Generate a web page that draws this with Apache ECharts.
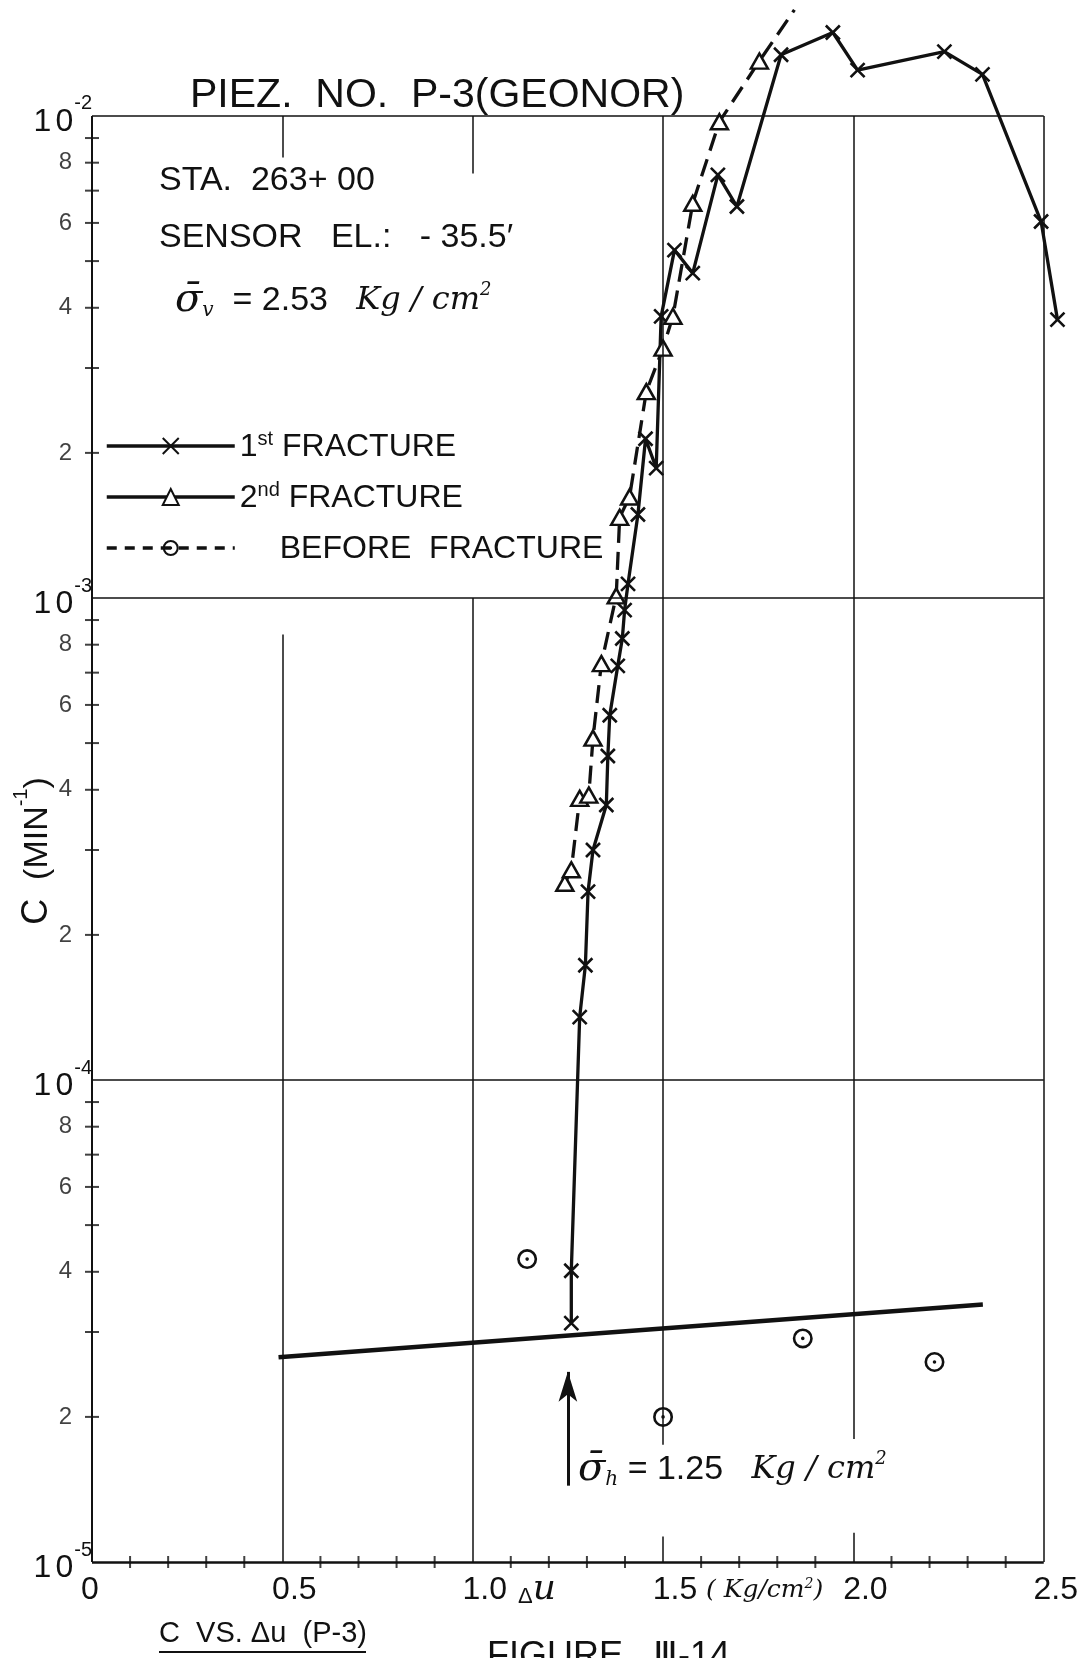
<!DOCTYPE html>
<html>
<head>
<meta charset="utf-8">
<script src="https://cdn.jsdelivr.net/npm/echarts@6/dist/echarts.min.js"></script>
<style>
  html, body { margin: 0; padding: 0; background: #ffffff; }
  #chart { width: 1081px; height: 1658px; }
</style>
</head>
<body>
<div id="chart"></div>
<script>
// Δu (kg/cm²) against creep coefficient C (1/min), piezometer P-3 (Geonor)
const firstFractureDu = [1.259, 1.259, 1.281, 1.296, 1.303, 1.316, 1.351, 1.355, 1.360, 1.381,
  1.393, 1.399, 1.408, 1.434, 1.454, 1.482, 1.495, 1.530, 1.578, 1.644, 1.694, 1.810, 1.946,
  2.011, 2.239, 2.339, 2.493, 2.536];
const firstFractureC = [3.13e-5, 4.02e-5, 1.35e-4, 1.73e-4, 2.46e-4, 3.0e-4, 3.72e-4, 4.70e-4,
  5.71e-4, 7.23e-4, 8.24e-4, 9.44e-4, 1.07e-3, 1.49e-3, 2.14e-3, 1.86e-3, 3.84e-3, 5.27e-3,
  4.72e-3, 7.55e-3, 6.49e-3, 1.34e-2, 1.49e-2, 1.245e-2, 1.36e-2, 1.22e-2, 6.04e-3, 3.78e-3];

const secondFractureDu = [1.242, 1.259, 1.281, 1.305, 1.316, 1.338, 1.377, 1.386, 1.412, 1.456,
  1.500, 1.526, 1.578, 1.648, 1.753];
const secondFractureC = [2.56e-4, 2.73e-4, 3.84e-4, 3.90e-4, 5.12e-4, 7.31e-4, 1.01e-3, 1.47e-3,
  1.62e-3, 2.68e-3, 3.30e-3, 3.84e-3, 6.59e-3, 9.73e-3, 1.30e-2];
// the dashed trend is carried on past the last reading
const secondFractureTrend = [1.845, 1.66e-2];

const beforeFractureDu = [1.143, 1.50, 1.867, 2.213];
const beforeFractureC = [4.25e-5, 2.0e-5, 2.91e-5, 2.60e-5];

// background creep line
const baselineDu = [0.49, 2.34];
const baselineC = [2.66e-5, 3.42e-5];

// horizontal effective stress marker
const sigmaH = 1.25;
const sigmaHArrowC = [1.44e-5, 2.48e-5];

// axis ticks
const xLabelStep = 0.5;
const xMinorStep = 0.1;
const xLabelMax = 2.5;
const yDecades = [-5, -4, -3];
const yTickMantissas = [2, 3, 4, 5, 6, 7, 8, 9];
const yLabelledMantissas = [2, 4, 6, 8];

// hand-ruled frame and grid: [x, cFrom, cTo] verticals, [c, duFrom, duTo] horizontals
const gridVertical = [
  [0, 1e-5, 1e-2], [0.5, 1e-5, 8.4e-4], [0.5, 8.2e-3, 1e-2], [1.0, 1e-5, 1e-3], [1.0, 7.6e-3, 1e-2],
  [1.5, 1.75e-5, 1e-2], [1.5, 1e-5, 1.13e-5], [2.0, 1.8e-5, 1e-2], [2.0, 1e-5, 1.15e-5], [2.5, 1e-5, 1e-2]
];
const gridHorizontal = [[1e-2, 0, 2.5], [1e-3, 0, 2.5], [1e-4, 0, 2.5], [1e-5, 0, 2.5]];

const FONT = 'Liberation Sans';
const SCRIPT = 'DejaVu Serif';
const INK = '#111';

const zip = (xs, ys) => xs.map((x, i) => [x, ys[i]]);
const isStep = (v, step) => Math.abs(v / step - Math.round(v / step)) < 1e-9;

const yTicks = [];
yDecades.forEach(d => yTickMantissas.forEach(m => yTicks.push([0, m * Math.pow(10, d), m])));
const xTicks = [];
for (let k = 1; k * xMinorStep < xLabelMax - 1e-9; k++) {
  const v = +(k * xMinorStep).toFixed(1);
  if (!isStep(v, xLabelStep)) xTicks.push([v, 1e-5]);
}

const markSegments = [];
gridVertical.forEach(([x, a, b]) => markSegments.push([
  { coord: [x, a], lineStyle: { width: x === 0 ? 2 : 1.5 } }, { coord: [x, b] }]));
gridHorizontal.forEach(([c, a, b]) => markSegments.push([
  { coord: [a, c], lineStyle: { width: c === 1e-5 ? 2.5 : 1.5 } }, { coord: [b, c] }]));
markSegments.push([
  { coord: [sigmaH, sigmaHArrowC[0]], lineStyle: { width: 3 }, symbol: 'none' },
  { coord: [sigmaH, sigmaHArrowC[1]], symbol: 'arrow', symbolSize: [14, 30] }]);

const crossSymbol = 'path://M0,0L10,10M10,0L0,10';
const dotCircleSymbol = 'path://M10,0A10,10,0,1,1,10,20A10,10,0,1,1,10,0Z' +
  'M10,2.6A7.4,7.4,0,1,0,10,17.4A7.4,7.4,0,1,0,10,2.6Z' +
  'M10,8.2A1.8,1.8,0,1,1,10,11.8A1.8,1.8,0,1,1,10,8.2Z';

const chart = echarts.init(document.getElementById('chart'), null, { renderer: 'canvas' });

const legendNames = {
  '1st FRACTURE': '{a|1}{s|st}{a| FRACTURE}',
  '2nd FRACTURE': '{a|2}{s|nd}{a| FRACTURE}',
  'BEFORE FRACTURE': '{g| }{a|BEFORE  FRACTURE}'
};

const sigmaRich = {
  s: { fontSize: 40, fontFamily: SCRIPT, fontStyle: 'italic', fill: INK, verticalAlign: 'middle' },
  v: { fontSize: 20, fontFamily: SCRIPT, fontStyle: 'italic', fill: INK, verticalAlign: 'bottom' },
  t: { fontSize: 34, fontFamily: FONT, fill: INK, verticalAlign: 'middle' },
  k: { fontSize: 32, fontFamily: SCRIPT, fontStyle: 'italic', fill: INK, verticalAlign: 'middle' },
  e: { fontSize: 18, fontFamily: SCRIPT, fontStyle: 'italic', fill: INK, verticalAlign: 'top' }
};

chart.setOption({
  animation: false,
  backgroundColor: '#ffffff',
  textStyle: { fontFamily: FONT, color: INK },
  grid: { left: 92, right: 17.45, top: 0.3, bottom: 96, containLabel: false },
  xAxis: {
    type: 'value', min: 0, max: 2.55, interval: xLabelStep,
    axisLine: { show: false }, axisTick: { show: false }, splitLine: { show: false },
    axisLabel: {
      margin: 12, showMaxLabel: false,
      formatter: v => {
        if (!isStep(v, xLabelStep) || v > xLabelMax + 1e-9) return '';
        return v === 0 ? '{z|0}' : '{n|' + v.toFixed(1) + '}';
      },
      rich: {
        n: { fontSize: 32, fontFamily: FONT, color: INK, padding: [0, 0, 0, 24] },
        z: { fontSize: 32, fontFamily: FONT, color: INK, padding: [0, 4, 0, 0] }
      }
    }
  },
  yAxis: {
    type: 'log', logBase: 10, min: 1e-5, max: Math.pow(10, -1.76),
    axisLine: { show: false }, axisTick: { show: false }, splitLine: { show: false },
    axisLabel: {
      margin: 0, showMaxLabel: false,
      formatter: v => {
        const e = Math.log10(v);
        const r = Math.round(e);
        if (Math.abs(e - r) > 1e-6) return '';
        return '{b|1}{z|0}{e|' + r + '}';
      },
      rich: {
        b: { fontSize: 32, fontFamily: FONT, color: INK, padding: [12, 0, 0, 0], verticalAlign: 'bottom' },
        z: { fontSize: 32, fontFamily: FONT, color: INK, padding: [12, 0, 0, 4], verticalAlign: 'bottom' },
        e: { fontSize: 20, fontFamily: FONT, color: INK, verticalAlign: 'top', padding: [0, 0, 0, 1] }
      }
    }
  },
  legend: {
    orient: 'vertical', left: 100, top: 418, itemWidth: 128, itemHeight: 20, itemGap: 11,
    selectedMode: false,
    data: [
      { name: '1st FRACTURE', lineStyle: { width: 3.5, type: 'solid' } },
      { name: '2nd FRACTURE', lineStyle: { width: 3.5, type: 'solid' } },
      { name: 'BEFORE FRACTURE', lineStyle: { width: 3.5, type: [10, 8], opacity: 1 } }
    ],
    formatter: n => legendNames[n],
    textStyle: {
      color: INK,
      rich: {
        a: { fontSize: 32, lineHeight: 34, fontFamily: FONT, color: INK, padding: [8, 0, 0, 0], verticalAlign: 'bottom' },
        s: { fontSize: 20, lineHeight: 20, fontFamily: FONT, color: INK, verticalAlign: 'top' },
        g: { width: 40, fontSize: 32, lineHeight: 34, padding: [8, 0, 0, 0], verticalAlign: 'bottom' }
      }
    }
  },
  series: [
    {
      name: '1st FRACTURE', type: 'line', clip: false, silent: true,
      data: zip(firstFractureDu, firstFractureC),
      symbol: crossSymbol, symbolSize: 14,
      lineStyle: { color: INK, width: 3.3 },
      itemStyle: { color: INK, borderColor: INK, borderWidth: 2.6 }
    },
    {
      name: '2nd FRACTURE', type: 'line', clip: false, silent: true,
      data: zip(secondFractureDu, secondFractureC).concat([{ value: secondFractureTrend, symbol: 'none' }]),
      symbol: 'triangle', symbolSize: [17, 15],
      lineStyle: { color: INK, width: 3.3, type: [18, 9] },
      itemStyle: { color: '#ffffff', borderColor: INK, borderWidth: 2.5 }
    },
    {
      name: 'BEFORE FRACTURE', type: 'line', clip: false, silent: true,
      data: zip(beforeFractureDu, beforeFractureC),
      symbol: dotCircleSymbol, symbolSize: 20,
      lineStyle: { color: INK, width: 0 },
      itemStyle: { color: INK, borderWidth: 0 }
    },
    {
      name: 'background', type: 'line', clip: false, silent: true,
      data: zip(baselineDu, baselineC), symbol: 'none',
      lineStyle: { color: INK, width: 4.5 },
      markLine: {
        silent: true, symbol: ['none', 'none'], label: { show: false },
        lineStyle: { color: INK, width: 1.5, type: 'solid' },
        emphasis: { disabled: true },
        data: markSegments
      }
    },
    {
      name: 'yTicks', type: 'scatter', clip: false, silent: true,
      data: yTicks, symbol: 'rect', symbolSize: [14, 2],
      itemStyle: { color: INK },
      label: {
        show: true, position: 'left', distance: 13, color: INK, fontSize: 24, fontFamily: FONT,
        formatter: p => (yLabelledMantissas.includes(p.value[2]) ? String(p.value[2]) : '')
      }
    },
    {
      name: 'xTicks', type: 'scatter', clip: false, silent: true,
      data: xTicks, symbol: 'rect', symbolSize: [2, 12],
      itemStyle: { color: INK }
    }
  ],
  graphic: [
    { type: 'text', x: 190, y: 96, silent: true,
      style: { text: 'PIEZ.  NO.  P-3(GEONOR)', fontSize: 41, fontFamily: FONT, fill: INK, align: 'left', verticalAlign: 'middle' } },
    { type: 'text', x: 159, y: 181, silent: true,
      style: { text: 'STA.  263+ 00', fontSize: 34, fontFamily: FONT, fill: INK, align: 'left', verticalAlign: 'middle' } },
    { type: 'text', x: 159, y: 238, silent: true,
      style: { text: 'SENSOR   EL.:   - 35.5\u2032', fontSize: 34, fontFamily: FONT, fill: INK, align: 'left', verticalAlign: 'middle' } },
    { type: 'text', x: 175, y: 301, silent: true,
      style: {
        text: '{s|\u03C3\u0304}{v|v}{t|  = 2.53   }{k|Kg / cm}{e|2}', align: 'left', verticalAlign: 'middle', fill: INK,
        rich: sigmaRich
      } },
    { type: 'text', x: 578, y: 1470, silent: true,
      style: {
        text: '{s|\u03C3\u0304}{v|h}{t| = 1.25   }{k|Kg / cm}{e|2}', align: 'left', verticalAlign: 'middle', fill: INK,
        rich: sigmaRich
      } },
    { type: 'text', x: 33, y: 851, rotation: Math.PI / 2, silent: true,
      style: {
        text: '{c|C}{a|  (MIN}{e|-1}{a|)}', align: 'center', verticalAlign: 'middle', fill: INK,
        rich: {
          c: { fontSize: 36, fontFamily: FONT, fill: INK, padding: [8, 0, 0, 0], verticalAlign: 'bottom' },
          a: { fontSize: 34, fontFamily: FONT, fill: INK, padding: [8, 0, 0, 0], verticalAlign: 'bottom' },
          e: { fontSize: 20, fontFamily: FONT, fill: INK, verticalAlign: 'top' }
        }
      } },
    { type: 'text', x: 518, y: 1590, silent: true,
      style: {
        text: '{d|\u0394}{u|u}', align: 'left', verticalAlign: 'middle', fill: INK,
        rich: {
          d: { fontSize: 22, fontFamily: FONT, fill: INK, verticalAlign: 'bottom' },
          u: { fontSize: 36, fontFamily: SCRIPT, fontStyle: 'italic', fill: INK, verticalAlign: 'bottom' }
        }
      } },
    { type: 'text', x: 706, y: 1590, silent: true,
      style: {
        text: '{a|( Kg/cm}{e|2}{a|)}', align: 'left', verticalAlign: 'middle', fill: INK,
        rich: {
          a: { fontSize: 25, fontFamily: SCRIPT, fontStyle: 'italic', fill: INK, verticalAlign: 'bottom' },
          e: { fontSize: 14, fontFamily: SCRIPT, fontStyle: 'italic', fill: INK, verticalAlign: 'top' }
        }
      } },
    { type: 'text', x: 159, y: 1634, silent: true,
      style: { text: 'C  VS. \u0394u  (P-3)', fontSize: 29, fontFamily: FONT, fill: INK, align: 'left', verticalAlign: 'middle' } },
    { type: 'line', silent: true, shape: { x1: 159, y1: 1652, x2: 366, y2: 1652 }, style: { stroke: INK, lineWidth: 2 } },
    { type: 'text', x: 487, y: 1657, silent: true,
      style: { text: 'FIGURE   \u2162-14', fontSize: 36, fontFamily: FONT, fill: INK, align: 'left', verticalAlign: 'middle' } }
  ]
});
</script>
</body>
</html>
